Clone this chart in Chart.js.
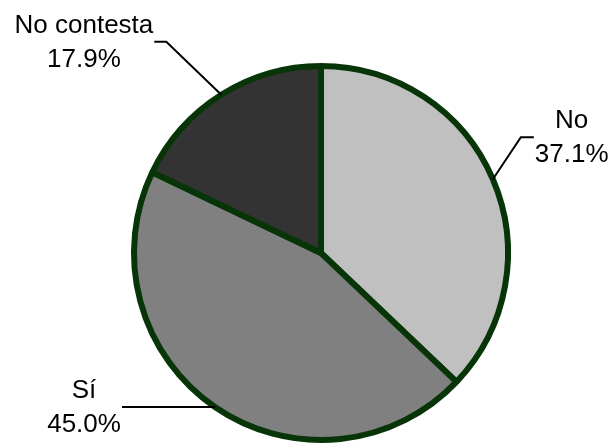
<!DOCTYPE html>
<html>
<head>
<meta charset="utf-8">
<script src="https://cdn.jsdelivr.net/npm/chart.js@4"></script>
<style>
  html, body { margin: 0; padding: 0; background: #ffffff; }
  #wrap { width: 613px; height: 446px; }
</style>
</head>
<body>
<div id="wrap"><canvas id="pie"></canvas></div>
<script>
const categories = ['No', 'Sí', 'No contesta']
const percentages = [37.1, 45.0, 17.9]
const sliceColors = ['#c0c0c0', '#808080', '#333333']

// leader line for each label: bend point relative to slice edge, then a flat tail
const leaders = [
    {bend: [28, -42], tail: 13},
    {bend: [0, 0], tail: -93},
    {bend: [-55, -53], tail: -12}
]

const labelFont = '26px "Liberation Sans", Arial, sans-serif'

const pieLabels = {
    id: 'pieLabels',
    afterDatasetsDraw(chart) {
        const ctx = chart.ctx
        const arcs = chart.getDatasetMeta(0).data
        ctx.save()
        ctx.font = labelFont
        ctx.fillStyle = '#000000'
        ctx.strokeStyle = '#000000'
        ctx.lineWidth = 2
        arcs.forEach((arc, i) => {
            const p = arc.getProps(['x', 'y', 'startAngle', 'endAngle', 'outerRadius'], true)
            const mid = (p.startAngle + p.endAngle) / 2
            const ex = p.x + Math.cos(mid) * p.outerRadius
            const ey = p.y + Math.sin(mid) * p.outerRadius
            const bx = ex + leaders[i].bend[0]
            const by = ey + leaders[i].bend[1]
            const tx = bx + leaders[i].tail
            ctx.beginPath()
            ctx.moveTo(ex, ey)
            ctx.lineTo(bx, by)
            ctx.lineTo(tx, by)
            ctx.stroke()

            const lines = [categories[i], percentages[i].toFixed(1) + '%']
            const w = Math.max(...lines.map(l => ctx.measureText(l).width))
            const dir = leaders[i].tail < 0 ? -1 : 1
            const cx = tx + dir * (w / 2 + 1)
            ctx.textAlign = 'center'
            ctx.textBaseline = 'alphabetic'
            ctx.fillText(lines[0], cx, by - 9)
            ctx.fillText(lines[1], cx, by + 25)
        })
        ctx.restore()
    }
}

new Chart(document.getElementById('pie'), {
    type: 'pie',
    data: {
        labels: categories,
        datasets: [{
            data: percentages,
            backgroundColor: sliceColors,
            borderColor: '#073507',
            borderWidth: 6
        }]
    },
    options: {
        responsive: true,
        maintainAspectRatio: false,
        animation: false,
        layout: {padding: {left: 131, right: 102, top: 63, bottom: 3}},
        plugins: {
            legend: {display: false},
            tooltip: {enabled: false}
        }
    },
    plugins: [pieLabels]
})
</script>
</body>
</html>
